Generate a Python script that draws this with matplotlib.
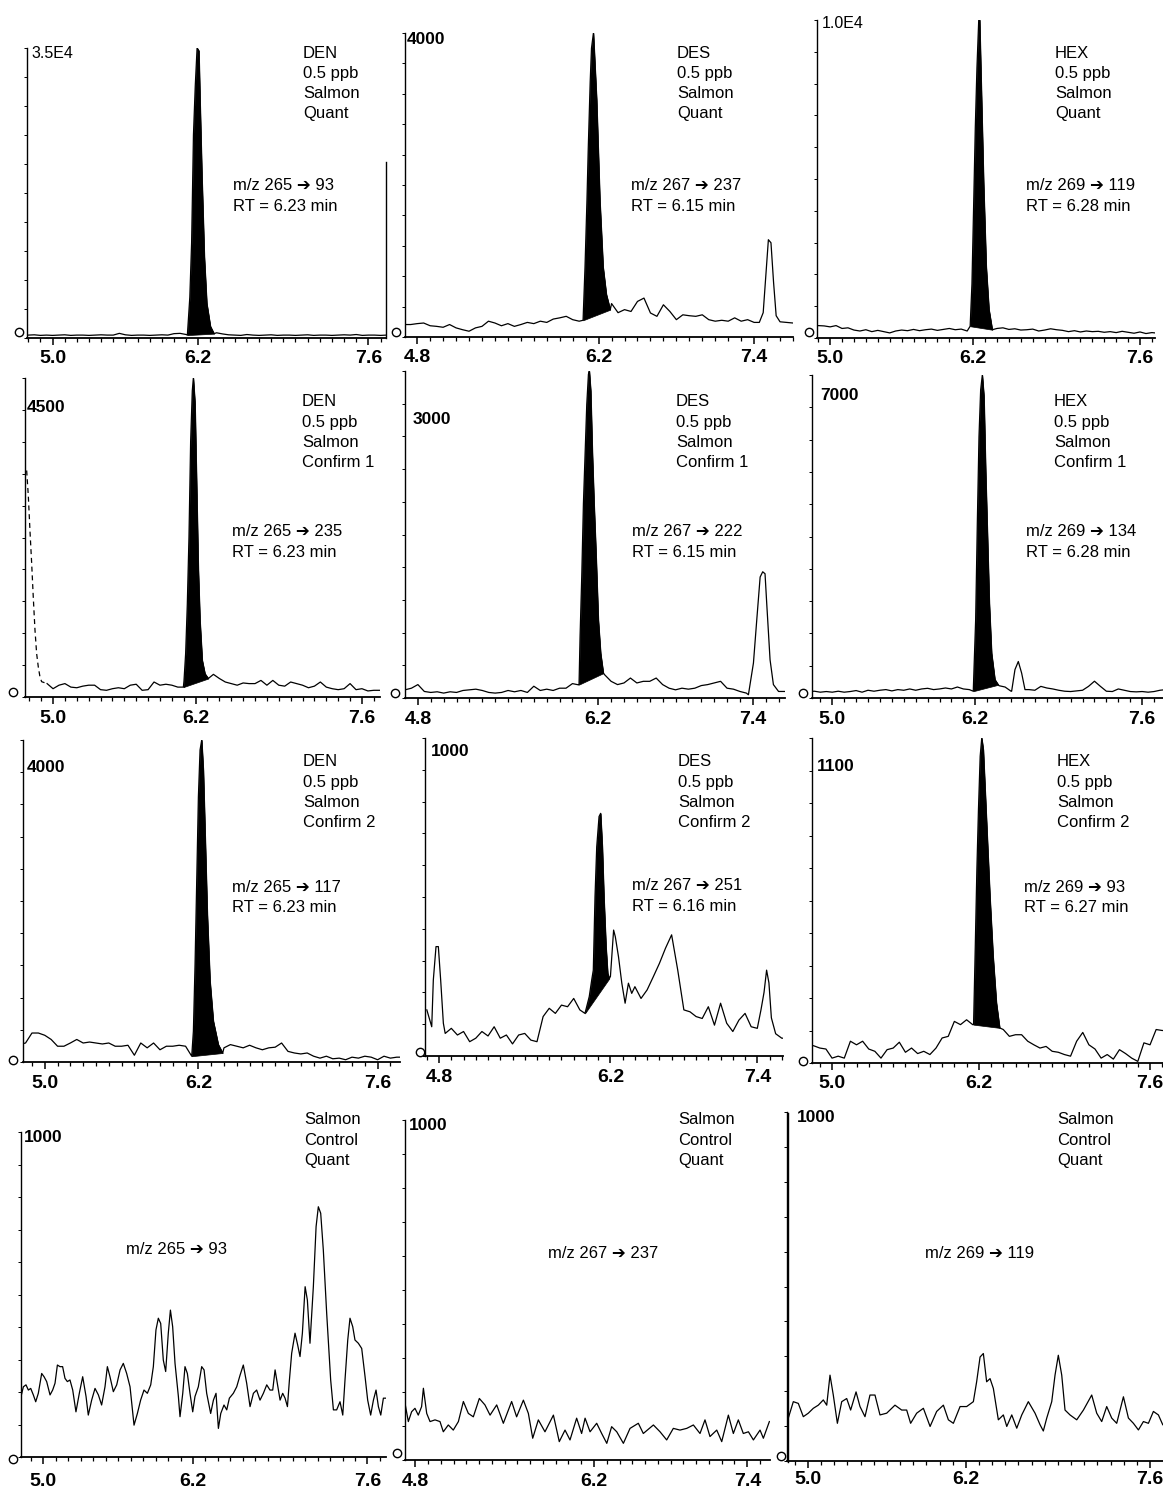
import numpy as np
import matplotlib
matplotlib.use("Agg")
import matplotlib.pyplot as plt
from matplotlib.lines import Line2D

plt.rcParams['font.family'] = ['Liberation Sans', 'DejaVu Sans']

W, H = 1163, 1493

# ---------------- DATA (relative abundance, % of full scale) ----------------
GRID = [4.70, 4.75, 4.80, 4.85, 4.90, 4.95,
        5.00, 5.05, 5.10, 5.15, 5.20, 5.25, 5.30, 5.35, 5.40, 5.45,
        5.50, 5.55, 5.60, 5.65, 5.70, 5.75, 5.80, 5.85, 5.90, 5.95,
        6.00, 6.05, 6.10, 6.15, 6.20, 6.25, 6.30, 6.35, 6.40, 6.45,
        6.50, 6.55, 6.60, 6.65, 6.70, 6.75, 6.80, 6.85, 6.90, 6.95,
        7.00, 7.05, 7.10, 7.15, 7.20, 7.25, 7.30, 7.35, 7.40, 7.45,
        7.50, 7.55, 7.60, 7.65, 7.70, 7.75, 7.80]

nan = float('nan')

# DEN quant  m/z 265 -> 93
den_quant_base = [1.0, 0.9, 1.0, 1.1, 0.9, 1.0,
                  0.9, 1.0, 1.1, 0.9, 1.0, 1.0, 0.9, 1.0, 1.1, 1.0,
                  1.0, 1.6, 1.1, 0.9, 1.0, 1.0, 0.9, 1.0, 1.1, 1.0,
                  1.5, 1.6, 1.2, 1.0, 1.0, 1.0, 1.0, 1.8, 1.4, 1.1,
                  1.0, 0.9, 1.2, 1.0, 0.9, 1.0, 1.1, 0.9, 1.0, 1.0,
                  0.9, 1.0, 1.1, 0.9, 1.0, 1.0, 0.9, 1.0, 1.1, 1.0,
                  1.2, 0.9, 1.0, 1.0, 0.9, 1.0, 1.0]
den_quant_peak = [(6.11, 1.0), (6.13, 14), (6.145, 33), (6.16, 70), (6.175, 87), (6.19, 100),
                  (6.205, 99), (6.215, 81), (6.23, 56), (6.25, 28), (6.27, 12), (6.30, 4), (6.33, 1.5)]

# DES quant  m/z 267 -> 237
des_quant_base = [4.1, 4.1, 4.4, 4.6, 3.7, 3.5,
                  3.2, 4.1, 3.0, 2.4, 1.9, 3.0, 3.5, 5.2, 4.6, 3.7,
                  4.4, 3.5, 4.1, 4.8, 4.4, 5.2, 4.8, 5.9, 6.3, 6.8,
                  5.7, 5.2, 5.0, 5.0, 5.0, 5.0, 11.0, 8.0, 9.0, 8.4,
                  11.7, 12.8, 7.9, 6.8, 10.6, 8.4, 5.7, 7.3, 7.0, 6.8,
                  7.3, 5.7, 5.2, 5.5, 5.2, 6.3, 5.2, 5.7, 4.8, 5.0,
                  5.0, 5.0, 5.0, 4.8, 4.6, 4.6, 4.6]
des_quant_peak = [(6.08, 5.5), (6.095, 23), (6.11, 45), (6.12, 62), (6.135, 84), (6.145, 95),
                  (6.16, 100), (6.185, 78), (6.21, 45), (6.235, 23), (6.26, 14), (6.29, 9)]
des_quant_late = [(7.44, 4.8), (7.47, 8), (7.49, 20), (7.51, 32), (7.53, 31), (7.55, 18),
                  (7.57, 7), (7.60, 5)]

# HEX quant  m/z 269 -> 119
hex_quant_base = [3.5, 3.5, 3.5, 3.5, 3.9, 3.8,
                  3.5, 3.9, 3.0, 3.2, 2.5, 2.2, 2.6, 2.0, 2.4, 2.0,
                  1.6, 2.2, 2.5, 2.3, 2.7, 2.3, 2.6, 2.8, 2.4, 2.7,
                  3.0, 2.6, 2.8, 2.2, 3.0, 3.0, 3.0, 3.0, 3.0, 3.2,
                  2.7, 2.9, 2.5, 2.6, 2.8, 2.2, 2.5, 2.9, 2.6, 2.4,
                  2.0, 2.3, 1.9, 2.2, 2.0, 2.1, 1.8, 2.0, 1.7, 2.1,
                  1.8, 1.5, 1.9, 1.4, 1.7, 1.5, 1.5]
hex_quant_peak = [(6.175, 3.7), (6.19, 17), (6.205, 43), (6.218, 66), (6.232, 85), (6.247, 100),
                  (6.255, 100), (6.268, 80), (6.288, 49), (6.31, 22.5), (6.333, 9), (6.361, 2.6)]

# DEN confirm 1  m/z 265 -> 235
den_c1_base = [nan, nan, nan, nan, nan, 4.2,
               2.6, 3.7, 4.2, 3.1, 2.9, 3.4, 3.7, 3.7, 2.3, 2.1,
               2.6, 2.9, 2.6, 3.7, 4.0, 2.1, 2.3, 4.7, 3.7, 4.0,
               3.7, 3.1, 3.0, 3.0, 3.0, 3.0, 3.0, 7.1, 5.8, 4.7,
               4.2, 3.7, 4.4, 4.2, 4.2, 5.2, 3.7, 5.2, 3.7, 3.4,
               4.7, 4.2, 3.7, 2.9, 3.4, 4.7, 3.1, 2.6, 2.3, 2.6,
               4.2, 2.3, 2.6, 1.9, 2.1, 2.1, 2.1]
den_c1_peak = [(6.097, 3.1), (6.102, 5), (6.116, 13.6), (6.13, 29), (6.144, 50), (6.158, 80),
               (6.172, 96), (6.181, 100), (6.195, 92), (6.209, 66), (6.223, 40), (6.237, 24),
               (6.256, 11.5), (6.279, 7.3), (6.307, 5.8)]
den_c1_dash = [(4.778, 71), (4.792, 63), (4.806, 52), (4.82, 42), (4.834, 31), (4.848, 21),
               (4.862, 13.6), (4.876, 9.4), (4.89, 6.3), (4.904, 4.8), (4.95, 4.2)]

# DES confirm 1  m/z 267 -> 222
des_c1_base = [2.5, 3.0, 4.1, 2.0, 1.7, 1.9,
               1.5, 1.9, 1.7, 2.3, 2.5, 2.7, 2.3, 1.7, 1.5, 1.7,
               2.3, 1.9, 2.3, 1.7, 3.6, 2.3, 2.7, 2.3, 3.0, 3.0,
               4.4, 4.0, 4.0, 4.0, 4.0, 7.1, 5.1, 4.1, 4.6, 6.1,
               4.6, 5.1, 5.1, 6.1, 4.1, 3.0, 2.5, 3.0, 2.7, 3.0,
               3.8, 4.1, 4.6, 5.1, 3.0, 2.7, 2.0, 1.5, 2.0, 2.0,
               2.0, 2.0, 2.0, 2.0, 2.0, 2.0, 2.0]
des_c1_peak = [(6.051, 4.1), (6.059, 18.8), (6.072, 37.1), (6.085, 59.4), (6.098, 74.6),
               (6.111, 89.8), (6.124, 99), (6.131, 100), (6.142, 93.9), (6.155, 74.6),
               (6.168, 59.4), (6.183, 44.2), (6.201, 23.9), (6.219, 13.7), (6.24, 7.6)]
des_c1_late = [(7.366, 1.0), (7.405, 10.7), (7.431, 24), (7.457, 37), (7.477, 38.6),
               (7.495, 38), (7.508, 29), (7.534, 11.7), (7.56, 4.1)]

# HEX confirm 1  m/z 269 -> 134
hex_c1_base = [2.0, 2.0, 2.0, 2.1, 1.8, 2.0,
               1.8, 2.1, 1.8, 2.0, 2.3, 1.8, 2.4, 2.1, 2.4, 2.6,
               2.2, 2.6, 2.4, 2.8, 2.4, 2.8, 3.0, 2.6, 2.8, 3.1,
               2.8, 3.4, 2.8, 2.6, 2.0, 2.0, 2.0, 2.0, 3.8, 3.4,
               2.1, 2.0, 2.0, 2.6, 2.4, 3.6, 3.1, 2.8, 2.4, 2.1,
               2.0, 2.2, 2.4, 3.6, 5.2, 3.6, 2.1, 2.0, 2.8, 2.4,
               2.0, 1.9, 2.0, 1.8, 2.0, 2.4, 2.6]
hex_c1_peak = [(6.183, 2.1), (6.189, 8.8), (6.203, 24.2), (6.217, 54.1), (6.231, 80.9),
               (6.245, 95.4), (6.259, 100), (6.273, 93.3), (6.287, 70.6), (6.301, 52.1),
               (6.318, 29.4), (6.337, 13.9), (6.365, 5.7), (6.393, 4.1)]
hex_c1_small = [(6.505, 2.1), (6.533, 8.8), (6.561, 11.3), (6.589, 7.7), (6.617, 2.6)]

# DEN confirm 2  m/z 265 -> 117
den_c2_base = [5.4, 5.4, 5.4, 5.9, 9.0, 9.0,
               8.3, 7.0, 4.9, 4.9, 5.9, 7.0, 5.9, 6.2, 5.9, 5.6,
               5.9, 4.9, 4.9, 5.2, 2.1, 5.9, 4.4, 5.9, 3.8, 4.9,
               4.9, 5.2, 4.9, 2.0, 2.0, 2.0, 2.0, 2.0, 4.4, 5.4,
               4.9, 4.4, 5.2, 4.4, 3.8, 4.4, 4.6, 5.9, 3.3, 2.8,
               2.5, 2.8, 1.8, 1.2, 1.8, 1.0, 1.2, 0.7, 1.5, 1.2,
               1.8, 1.5, 0.7, 1.8, 1.2, 1.5, 1.5]
den_c2_peak = [(6.148, 1.8), (6.161, 9.6), (6.174, 30.4), (6.187, 56.3), (6.2, 82.3),
               (6.213, 96.9), (6.226, 100), (6.239, 90.6), (6.252, 71.9), (6.27, 45.9),
               (6.291, 25.2), (6.317, 12.7), (6.356, 5.4), (6.39, 2.8)]

# DES confirm 2  m/z 267 -> 251
des_c2_base = [14.5, 23.0, 30.0, 7.1, 8.7, 6.6,
               7.7, 4.5, 5.6, 7.7, 6.3, 9.2, 5.6, 6.6, 3.8, 6.6,
               7.1, 5.0, 4.5, 12.4, 15.0, 13.4, 16.0, 15.5, 18.1, 14.5,
               15.0, 15.0, 15.0, 15.0, 24.4, 38.6, 27.0, 18.7, 21.8, 18.1,
               20.8, 24.9, 29.1, 33.9, 38.1, 27.0, 14.5, 13.9, 12.4, 11.8,
               15.5, 9.7, 16.6, 10.3, 7.7, 11.3, 13.4, 9.2, 8.7, 14.5,
               24.4, 9.2, 5.6, 5.6, 5.6, 5.6, 5.6]
des_c2_peak = [(5.992, 13.4), (6.006, 15.5), (6.027, 18.7), (6.047, 23.9), (6.06, 27.0),
               (6.074, 50.1), (6.088, 65.8), (6.107, 75.3), (6.12, 76.3), (6.134, 65.8),
               (6.147, 50.1), (6.164, 34.4), (6.178, 26.0), (6.191, 24.4)]
des_c2_spike = [(4.74, 9.2), (4.753, 23.9), (4.775, 34.4), (4.794, 34.4), (4.813, 23.9), (4.835, 10.3)]
des_c2_after = [(6.20, 25.0), (6.226, 39.6), (6.24, 37.5), (6.266, 31.2), (6.293, 22.9),
                (6.32, 16.6), (6.347, 22.9), (6.374, 19.7)]
des_c2_late = [(7.43, 14.5), (7.455, 20), (7.476, 27), (7.495, 23), (7.515, 12), (7.55, 7)]

# HEX confirm 2  m/z 269 -> 93
hex_c2_base = [5.6, 5.6, 5.6, 5.3, 4.6, 4.3,
               1.5, 2.1, 1.5, 6.7, 5.6, 6.7, 4.3, 3.6, 1.5, 4.1,
               4.6, 6.4, 3.3, 4.6, 2.9, 3.6, 2.6, 4.6, 7.7, 8.2,
               12.8, 11.8, 13.3, 11.8, 12.0, 12.0, 12.0, 12.0, 10.3, 8.2,
               8.7, 8.7, 6.7, 5.6, 4.6, 5.1, 3.6, 3.3, 2.6, 2.1,
               6.7, 9.4, 5.6, 4.3, 1.5, 2.6, 1.2, 4.1, 2.9, 1.5,
               0.5, 6.2, 5.6, 10.3, 10.0, 10.0, 10.0]
hex_c2_peak = [(6.157, 11.8), (6.171, 35.9), (6.184, 59.5), (6.197, 78), (6.211, 94.4),
               (6.224, 100), (6.237, 96.4), (6.264, 73.8), (6.291, 51.3), (6.317, 32.8),
               (6.344, 18.5), (6.371, 10.8)]

# Salmon control traces
den_ctrl = [(4.820, 18.6), (4.839, 21.6), (4.860, 22.2), (4.879, 20.6), (4.898, 21.1), (4.919, 19.1),
            (4.938, 17.0), (4.959, 19.6), (4.986, 25.7), (5.005, 24.7), (5.026, 23.2), (5.053, 19.1),
            (5.074, 20.6), (5.093, 22.7), (5.112, 28.3), (5.133, 27.8), (5.154, 27.8), (5.173, 24.2),
            (5.192, 23.2), (5.213, 23.7), (5.235, 20.6), (5.261, 13.9), (5.288, 19.6), (5.315, 24.7),
            (5.342, 18.6), (5.360, 12.9), (5.387, 17.5), (5.414, 21.1), (5.441, 19.1), (5.467, 16.0),
            (5.494, 21.6), (5.513, 27.8), (5.534, 24.7), (5.561, 20.1), (5.588, 22.2), (5.615, 26.8),
            (5.641, 28.8), (5.668, 25.7), (5.695, 21.6), (5.727, 9.8), (5.754, 13.4), (5.780, 17.5),
            (5.807, 20.6), (5.834, 19.6), (5.861, 22.2), (5.882, 27.8), (5.903, 39.1), (5.922, 42.7),
            (5.941, 41.1), (5.962, 29.8), (5.981, 26.3), (6.002, 38.1), (6.019, 45.2), (6.037, 40.1),
            (6.056, 28.8), (6.083, 18.6), (6.096, 12.4), (6.118, 19.6), (6.136, 27.8), (6.155, 25.7),
            (6.176, 19.6), (6.198, 13.9), (6.216, 18.6), (6.243, 21.6), (6.270, 27.8), (6.289, 26.8),
            (6.310, 19.6), (6.342, 13.4), (6.364, 17.5), (6.385, 19.6), (6.404, 8.8), (6.423, 13.4),
            (6.449, 16.0), (6.471, 14.5), (6.492, 18.1), (6.524, 19.6), (6.551, 21.6), (6.578, 25.2),
            (6.604, 28.3), (6.631, 22.7), (6.658, 15.5), (6.685, 19.6), (6.711, 20.6), (6.738, 17.5),
            (6.765, 19.6), (6.792, 22.2), (6.818, 20.6), (6.840, 20.6), (6.859, 26.8), (6.877, 22.7),
            (6.899, 17.5), (6.920, 19.6), (6.939, 18.1), (6.958, 15.5), (6.974, 23.7), (6.992, 31.9),
            (7.019, 38.1), (7.040, 34.5), (7.059, 30.9), (7.078, 38.1), (7.100, 52.4), (7.118, 48.3),
            (7.139, 35.0), (7.166, 52.4), (7.188, 70.9), (7.206, 77.0), (7.225, 75.0), (7.246, 63.7),
            (7.273, 44.2), (7.305, 23.7), (7.327, 14.5), (7.353, 14.5), (7.380, 17.0), (7.402, 12.9),
            (7.420, 23.7), (7.442, 36.0), (7.460, 42.7), (7.482, 40.1), (7.500, 36.0), (7.527, 35.0),
            (7.554, 33.4), (7.581, 24.7), (7.602, 17.5), (7.626, 12.9), (7.648, 17.5), (7.669, 20.6),
            (7.688, 15.5), (7.707, 12.9), (7.728, 18.1), (7.749, 18.1)]

des_ctrl = [(4.72, 16.7), (4.746, 11.3), (4.772, 14.2), (4.798, 15.2), (4.824, 13.2), (4.85, 15.7),
            (4.864, 21.1), (4.89, 13.7), (4.916, 11.3), (4.955, 11.8), (4.994, 11.3), (5.02, 8.3),
            (5.059, 10.3), (5.098, 8.8), (5.138, 11.3), (5.177, 17.2), (5.216, 13.7), (5.255, 12.7),
            (5.302, 18.1), (5.346, 16.2), (5.386, 13.2), (5.438, 16.2), (5.49, 10.8), (5.555, 17.2),
            (5.594, 12.7), (5.647, 17.6), (5.686, 13.7), (5.72, 6.4), (5.764, 11.8), (5.816, 8.3),
            (5.882, 13.2), (5.928, 5.4), (5.973, 8.8), (6.012, 5.9), (6.064, 12.3), (6.103, 7.8),
            (6.13, 12.3), (6.169, 8.3), (6.221, 10.8), (6.26, 7.8), (6.3, 4.9), (6.338, 9.8),
            (6.378, 8.3), (6.43, 4.9), (6.482, 9.3), (6.547, 10.8), (6.586, 7.8), (6.665, 10.3),
            (6.717, 8.3), (6.769, 5.9), (6.821, 9.3), (6.873, 8.8), (6.926, 9.3), (6.978, 10.3),
            (7.03, 7.8), (7.069, 11.8), (7.108, 6.9), (7.161, 8.8), (7.2, 5.4), (7.252, 13.2),
            (7.291, 7.8), (7.33, 11.8), (7.369, 7.8), (7.409, 8.3), (7.448, 5.9), (7.5, 8.8),
            (7.526, 6.4), (7.573, 11.3)]

hex_ctrl = [(4.85, 12.3), (4.888, 17.0), (4.926, 16.5), (4.964, 12.7), (5.002, 13.7), (5.04, 15.1),
            (5.078, 16.0), (5.116, 17.5), (5.142, 16.0), (5.167, 24.6), (5.192, 18.9), (5.223, 10.8),
            (5.256, 17.0), (5.294, 17.9), (5.324, 14.6), (5.365, 19.8), (5.395, 15.6), (5.433, 12.7),
            (5.471, 18.9), (5.509, 18.9), (5.547, 13.2), (5.598, 13.7), (5.661, 16.0), (5.712, 14.6),
            (5.75, 14.6), (5.78, 10.8), (5.826, 13.7), (5.877, 15.1), (5.928, 9.9), (5.978, 14.2),
            (6.029, 16.0), (6.067, 11.8), (6.105, 10.8), (6.156, 15.6), (6.206, 15.6), (6.257, 17.0),
            (6.282, 22.7), (6.308, 29.8), (6.333, 30.8), (6.358, 22.7), (6.384, 23.6), (6.409, 20.8),
            (6.447, 11.8), (6.485, 13.2), (6.511, 9.9), (6.549, 13.2), (6.587, 9.4), (6.625, 13.2),
            (6.675, 17.0), (6.726, 13.7), (6.764, 10.4), (6.789, 8.6), (6.815, 12.3), (6.853, 17.0),
            (6.878, 24.6), (6.903, 30.3), (6.929, 24.6), (6.954, 14.6), (6.992, 13.2), (7.043, 11.8),
            (7.094, 14.6), (7.157, 18.9), (7.195, 13.7), (7.233, 11.3), (7.271, 15.6), (7.309, 12.3),
            (7.347, 10.8), (7.398, 18.4), (7.436, 12.3), (7.474, 10.8), (7.512, 8.9), (7.55, 11.3),
            (7.588, 10.8), (7.626, 14.2), (7.664, 13.2), (7.697, 10.4)]

# tick labels / scale labels / annotations
tick_den_hex = [5.0, 6.2, 7.6]
tick_des = [4.8, 6.2, 7.4]
scale_labels = ['3.5E4', '4000', '1.0E4', '4500', '3000', '7000',
                '4000', '1000', '1100', '1000', '1000', '1000']
compounds = ['DEN', 'DES', 'HEX']
ARROW = '\u2794'
transitions = [['m/z 265 {} 93', 'm/z 267 {} 237', 'm/z 269 {} 119'],
               ['m/z 265 {} 235', 'm/z 267 {} 222', 'm/z 269 {} 134'],
               ['m/z 265 {} 117', 'm/z 267 {} 251', 'm/z 269 {} 93'],
               ['m/z 265 {} 93', 'm/z 267 {} 237', 'm/z 269 {} 119']]
rts = [['RT = 6.23 min', 'RT = 6.15 min', 'RT = 6.28 min'],
       ['RT = 6.23 min', 'RT = 6.15 min', 'RT = 6.28 min'],
       ['RT = 6.23 min', 'RT = 6.16 min', 'RT = 6.27 min']]
ion_types = ['Quant', 'Confirm 1', 'Confirm 2']

SERIES = [
    dict(base=den_quant_base, peak=den_quant_peak, extra=[]),
    dict(base=des_quant_base, peak=des_quant_peak, extra=[des_quant_late]),
    dict(base=hex_quant_base, peak=hex_quant_peak, extra=[]),
    dict(base=den_c1_base, peak=den_c1_peak, extra=[], dash=den_c1_dash),
    dict(base=des_c1_base, peak=des_c1_peak, extra=[des_c1_late]),
    dict(base=hex_c1_base, peak=hex_c1_peak, extra=[hex_c1_small]),
    dict(base=den_c2_base, peak=den_c2_peak, extra=[]),
    dict(base=des_c2_base, peak=des_c2_peak, extra=[des_c2_spike, des_c2_after, des_c2_late]),
    dict(base=hex_c2_base, peak=hex_c2_peak, extra=[]),
    dict(pairs=den_ctrl),
    dict(pairs=des_ctrl),
    dict(pairs=hex_ctrl),
]

# ---------------- LAYOUT (pixels) ----------------
LAYOUT = [
    dict(box=(27, 386, 48, 338), xlim=(4.79, 7.745), top_xy=(31, 54), zero=(19, 332),
         info_xy=(303, 53), mz_xy=(233, 186), pad=3.5),
    dict(box=(405, 793, 33, 337), xlim=(4.706, 7.70), top_xy=(407, 40), zero=(396, 332),
         info_xy=(677, 53), mz_xy=(631, 186), pad=3.5),
    dict(box=(817, 1155, 20, 338), xlim=(4.89, 7.726), top_xy=(822, 23), zero=(809, 332),
         info_xy=(1055, 53), mz_xy=(1026, 186), pad=3.5),
    dict(box=(25, 380, 378, 697), xlim=(4.764, 7.752), top_xy=(27, 408), zero=(13, 692),
         info_xy=(302, 402), mz_xy=(232, 532), pad=4.5),
    dict(box=(405, 785, 371, 698), xlim=(4.70, 7.65), top_xy=(413, 420), zero=(395, 693),
         info_xy=(676, 402), mz_xy=(632, 532), pad=4.5),
    dict(box=(812, 1163, 375, 698), xlim=(4.83, 7.775), top_xy=(820, 395), zero=(803, 693),
         info_xy=(1054, 402), mz_xy=(1026, 532), pad=4.5),
    dict(box=(23, 400, 740, 1062), xlim=(4.83, 7.775), top_xy=(27, 768), zero=(13, 1060),
         info_xy=(303, 762), mz_xy=(232, 887), pad=4.0),
    dict(box=(425, 783, 738, 1056), xlim=(4.685, 7.61), top_xy=(431, 752), zero=(420, 1052),
         info_xy=(678, 762), mz_xy=(632, 886), pad=4.0),
    dict(box=(812, 1163, 738, 1063), xlim=(4.836, 7.706), top_xy=(817, 767), zero=(803, 1061),
         info_xy=(1057, 762), mz_xy=(1024, 887), pad=4.0),
    dict(box=(21, 386, 1132, 1457), xlim=(4.82, 7.749), top_xy=(24, 1137), zero=(13, 1459),
         info_xy=(304, 1120), mz_xy=(126, 1250), pad=6.5),
    dict(box=(405, 770, 1120, 1460), xlim=(4.72, 7.578), top_xy=(409, 1126), zero=(397, 1453),
         info_xy=(678, 1120), mz_xy=(548, 1253), pad=4.5),
    dict(box=(787, 1163, 1112, 1461), xlim=(4.84, 7.699), top_xy=(797, 1117), zero=(781, 1456),
         info_xy=(1057, 1120), mz_xy=(925, 1254), pad=2.0),
]
LINE_DY = 20.3
TXT = 12


def merge(base, groups):
    t = np.array(GRID, float)
    y = np.array(base, float)
    keep = np.ones(t.size, bool)
    pts, pys = [], []
    for g in groups:
        gt = np.array([p[0] for p in g], float)
        gy = np.array([p[1] for p in g], float)
        keep &= ~((t >= gt.min() - 1e-9) & (t <= gt.max() + 1e-9))
        pts.append(gt)
        pys.append(gy)
    T = np.concatenate([t[keep]] + pts)
    Y = np.concatenate([y[keep]] + pys)
    o = np.argsort(T, kind='stable')
    return T[o], Y[o]


def ftext(x, y, s, **kw):
    fig.text(x / W, 1 - y / H, s, va='center', ha='left', **kw)


fig = plt.figure(figsize=(W / 100, H / 100), dpi=100)

for i, (lay, ser) in enumerate(zip(LAYOUT, SERIES)):
    row, col = divmod(i, 3)
    l, r, t, b = lay['box']
    ax = fig.add_axes([l / W, 1 - b / H, (r - l) / W, (b - t) / H])
    ax.set_xlim(*lay['xlim'])
    ax.set_ylim(0, 100)
    for s in ('top', 'right'):
        ax.spines[s].set_visible(False)
    ax.spines['left'].set_linewidth(1.0)
    ax.spines['bottom'].set_linewidth(1.3)
    ax.patch.set_alpha(0)

    if 'pairs' in ser:
        T = [p[0] for p in ser['pairs']]
        Y = [p[1] for p in ser['pairs']]
        ax.plot(T, Y, color='black', lw=0.9)
    else:
        T, Y = merge(ser['base'], [ser['peak']] + ser['extra'])
        ax.plot(T, Y, color='black', lw=0.9)
        pt = np.array([p[0] for p in ser['peak']])
        py = np.array([p[1] for p in ser['peak']])
        line = py[0] + (py[-1] - py[0]) * (pt - pt[0]) / (pt[-1] - pt[0])
        ax.fill_between(pt, py, line, color='black', lw=0.5, edgecolor='black')
        if 'dash' in ser:
            ax.plot([p[0] for p in ser['dash']], [p[1] for p in ser['dash']],
                    color='black', lw=0.9, ls=(0, (4, 3)))

    # ticks
    labels = tick_des if col == 1 else tick_den_hex
    ax.set_xticks(labels)
    ax.set_xticklabels([f'{v:.1f}' for v in labels], fontsize=14, fontweight='bold')
    minor = [v for v in np.arange(4.6, 7.9, 0.1) if lay['xlim'][0] <= v <= lay['xlim'][1]]
    ax.set_xticks(minor, minor=True)
    ax.tick_params(axis='x', which='major', direction='out', length=5, width=1.1,
                   pad=lay['pad'])
    ax.tick_params(axis='x', which='minor', direction='out', length=3, width=0.9)
    ax.set_yticks(np.arange(0, 101, 10))
    ax.set_yticklabels([])
    ax.tick_params(axis='y', which='major', direction='out', length=2, width=0.7)

    # scale label
    lab = scale_labels[i]
    bold = 'E' not in lab
    ftext(lay['top_xy'][0], lay['top_xy'][1], lab, fontsize=12.5 if bold else 11.5,
          fontweight='bold' if bold else 'normal')
    # zero marker
    fig.add_artist(Line2D([lay['zero'][0] / W], [1 - lay['zero'][1] / H], marker='o', ms=6,
                          mfc='white', mec='black', mew=1.0, transform=fig.transFigure))

    # annotations
    ix, iy = lay['info_xy']
    if row < 3:
        lines = [compounds[col], '0.5 ppb', 'Salmon', ion_types[row]]
    else:
        lines = ['Salmon', 'Control', 'Quant']
    for k, s in enumerate(lines):
        ftext(ix, iy + k * LINE_DY, s, fontsize=TXT)
    mx, my = lay['mz_xy']
    ftext(mx, my, transitions[row][col].format(ARROW), fontsize=TXT,
          family=['Liberation Sans', 'DejaVu Sans'])
    if row < 3:
        ftext(mx, my + 20.5, rts[row][col], fontsize=TXT)

# stray vertical frame lines present in the original scan
fig.add_artist(Line2D([386 / W, 386 / W], [1 - 162 / H, 1 - 338 / H], color='black', lw=1.0,
                      transform=fig.transFigure))
fig.add_artist(Line2D([788 / W, 788 / W], [1 - 1113 / H, 1 - 1462 / H], color='black', lw=1.0,
                      transform=fig.transFigure))

fig.savefig('out.png', dpi=100)
